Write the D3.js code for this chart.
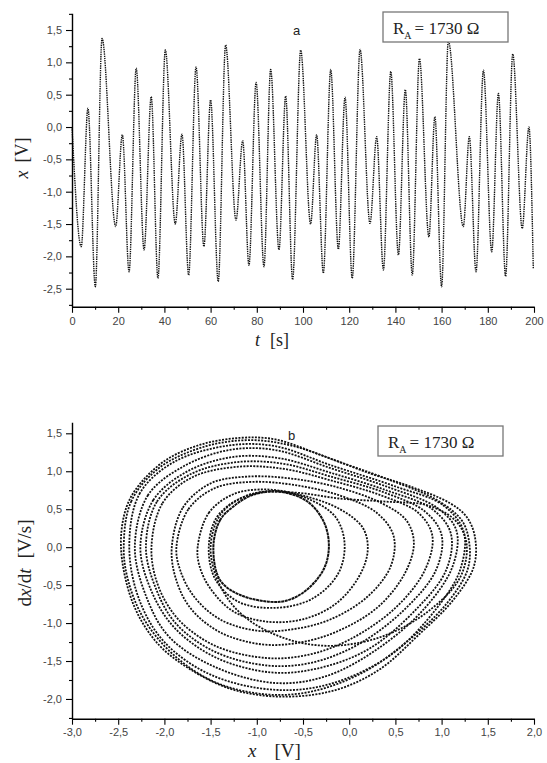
<!DOCTYPE html>
<html><head><meta charset="utf-8">
<script src="https://cdn.jsdelivr.net/npm/d3@7"></script>
<style>
html,body{margin:0;padding:0;background:#fff;}
svg{display:block;}
.tick text{font-family:"Liberation Sans",Arial,sans-serif;font-size:11px;fill:#444;}
</style></head>
<body>
<svg id="c" width="547" height="763"></svg>
<script>
// ---- Panel a: time series extrema (t [s], x [V]) ----
const tsT = [0, 4.0, 6.9, 10.1, 13.0, 18.9, 21.8, 24.7, 27.8, 31.2, 34.3, 37.2, 40.4, 44.7, 47.6, 50.5, 53.7, 57.1, 60.0, 63.3, 66.5, 71.0, 73.9, 76.6, 79.7, 83.1, 86.0, 89.6, 92.5, 95.5, 99.0, 103.3, 105.9, 108.8, 112.0, 115.3, 118.2, 121.3, 124.7, 129.0, 131.9, 134.8, 138.0, 141.3, 144.3, 147.3, 150.4, 154.5, 157.1, 160.0, 162.9, 169.4, 172.0, 174.9, 178.1, 181.7, 184.6, 187.7, 190.8, 194.9, 197.8, 199.7];
const tsX = [0.0, -1.85, 0.29, -2.47, 1.37, -1.54, -0.12, -2.24, 0.91, -1.90, 0.47, -2.34, 1.19, -1.50, -0.11, -2.29, 0.93, -1.85, 0.42, -2.39, 1.27, -1.44, -0.21, -2.14, 0.69, -2.16, 0.89, -1.90, 0.48, -2.36, 1.19, -1.50, -0.12, -2.26, 0.89, -1.89, 0.46, -2.34, 1.20, -1.49, -0.15, -2.21, 0.86, -1.98, 0.58, -2.29, 1.06, -1.70, 0.16, -2.47, 1.33, -1.54, -0.15, -2.24, 0.88, -1.93, 0.52, -2.31, 1.13, -1.57, 0.0, -2.2];
const aXTicks = [0, 20, 40, 60, 80, 100, 120, 140, 160, 180, 200];
const aYTicks = [-2.5, -2.0, -1.5, -1.0, -0.5, 0.0, 0.5, 1.0, 1.5];

// ---- Panel b: phase portrait loops (x [V], dx/dt [V/s]) ----
const loopOuter = [[-2.47,0],[-2.41,0.53],[-2.26,0.84],[-1.98,1.15],[-1.61,1.35],[-1.18,1.44],[-0.8,1.42],[-0.32,1.22],[0.23,0.97],[0.66,0.8],[1.09,0.58],[1.27,0.40],[1.36,0.14],[1.35,-0.25],[1.13,-0.69],[0.73,-1.18],[0.33,-1.61],[-0.14,-1.88],[-0.7,-1.97],[-1.25,-1.88],[-1.72,-1.61],[-2.08,-1.26],[-2.34,-0.74]];
const loopOuter2 = [[-2.44,0],[-2.36,0.6],[-2.05,1.05],[-1.55,1.33],[-1.05,1.41],[-0.6,1.33],[-0.1,1.12],[0.45,0.88],[0.95,0.62],[1.22,0.35],[1.3,0.05],[1.28,-0.3],[1.05,-0.75],[0.62,-1.25],[0.15,-1.65],[-0.4,-1.9],[-0.9,-1.94],[-1.45,-1.78],[-1.9,-1.42],[-2.22,-0.95],[-2.39,-0.45]];
const loop2 = [[-2.38,0],[-2.27,0.7],[-1.9,1.12],[-1.3,1.34],[-0.8,1.33],[-0.2,1.08],[0.5,0.8],[1.02,0.55],[1.24,0.2],[1.2,-0.3],[0.95,-0.8],[0.45,-1.42],[-0.2,-1.8],[-0.8,-1.88],[-1.5,-1.68],[-2.0,-1.25],[-2.27,-0.7]];
const loop3 = [[-2.32,0],[-2.18,0.68],[-1.8,1.06],[-1.3,1.28],[-0.8,1.28],[-0.2,1.04],[0.4,0.8],[0.95,0.52],[1.16,0.22],[1.12,-0.25],[0.82,-0.8],[0.32,-1.33],[-0.25,-1.7],[-0.8,-1.79],[-1.45,-1.58],[-1.95,-1.18],[-2.2,-0.64]];
const loop4 = [[-2.26,0],[-2.12,0.62],[-1.75,1.0],[-1.25,1.19],[-0.75,1.17],[-0.2,0.98],[0.4,0.75],[0.9,0.5],[1.1,0.18],[1.05,-0.3],[0.7,-0.85],[0.2,-1.35],[-0.35,-1.6],[-0.85,-1.65],[-1.45,-1.45],[-1.9,-1.05],[-2.15,-0.55]];
const loop4b = [[-2.2,0],[-2.08,0.6],[-1.72,0.96],[-1.22,1.12],[-0.72,1.1],[-0.2,0.93],[0.38,0.72],[0.82,0.47],[1.0,0.16],[0.94,-0.3],[0.6,-0.82],[0.1,-1.28],[-0.4,-1.52],[-0.88,-1.56],[-1.45,-1.38],[-1.88,-1.0],[-2.1,-0.52]];
const loop5 = [[-2.14,0],[-2.02,0.58],[-1.7,0.92],[-1.2,1.06],[-0.7,1.03],[-0.2,0.88],[0.35,0.68],[0.75,0.45],[0.9,0.15],[0.82,-0.3],[0.5,-0.8],[0.0,-1.22],[-0.45,-1.42],[-0.9,-1.46],[-1.45,-1.3],[-1.85,-0.95],[-2.07,-0.5]];
const loop6 = [[-1.92,0],[-1.8,0.52],[-1.5,0.84],[-1.1,0.93],[-0.6,0.9],[-0.1,0.78],[0.35,0.58],[0.62,0.35],[0.7,0.05],[0.6,-0.35],[0.3,-0.8],[-0.15,-1.12],[-0.55,-1.26],[-0.95,-1.28],[-1.4,-1.12],[-1.72,-0.8],[-1.88,-0.4]];
const loop7 = [[-1.87,0],[-1.74,0.5],[-1.45,0.78],[-1.05,0.86],[-0.6,0.82],[-0.1,0.68],[0.3,0.45],[0.48,0.15],[0.45,-0.25],[0.2,-0.65],[-0.2,-0.95],[-0.6,-1.08],[-1.0,-1.1],[-1.4,-0.95],[-1.68,-0.65],[-1.83,-0.3]];
const loop8 = [[-1.64,0],[-1.52,0.45],[-1.25,0.7],[-0.9,0.76],[-0.5,0.68],[-0.1,0.5],[0.15,0.25],[0.2,-0.05],[0.1,-0.4],[-0.15,-0.75],[-0.5,-0.95],[-0.9,-0.98],[-1.25,-0.85],[-1.5,-0.55],[-1.62,-0.25]];
const loop9 = [[-1.52,0],[-1.43,0.4],[-1.15,0.66],[-0.8,0.74],[-0.45,0.64],[-0.15,0.4],[-0.05,0.05],[-0.12,-0.35],[-0.4,-0.68],[-0.8,-0.8],[-1.2,-0.72],[-1.45,-0.42]];
const loopCross = [[-1.5,0],[-1.38,0.45],[-1.05,0.7],[-0.6,0.72],[-0.1,0.64],[0.4,0.6],[0.85,0.55],[1.15,0.35],[1.27,0.05],[1.2,-0.4],[0.85,-0.85],[0.35,-1.18],[-0.2,-1.3],[-0.7,-1.2],[-1.15,-0.9],[-1.4,-0.5]];
const loopInner = [[-1.47,0],[-1.4,0.35],[-1.26,0.53],[-1.04,0.69],[-0.75,0.73],[-0.45,0.6],[-0.27,0.32],[-0.22,0.0],[-0.28,-0.3],[-0.5,-0.6],[-0.75,-0.72],[-1.18,-0.63],[-1.4,-0.43]];
const dottedLoops = [loopOuter, loopOuter2, loop2, loop3, loop4, loop4b, loop5, loop6, loop7, loop8, loop9, loopCross];
const bXTicks = [-3.0, -2.5, -2.0, -1.5, -1.0, -0.5, 0.0, 0.5, 1.0, 1.5, 2.0];
const bYTicks = [-2.0, -1.5, -1.0, -0.5, 0.0, 0.5, 1.0, 1.5];

const fmt = v => v.toFixed(1).replace(".", ",");
const svg = d3.select("#c");
const serif = "'Liberation Serif','Times New Roman',serif";

function minorRange(a, b, step) { const r = []; for (let v = a; v <= b + 1e-9; v += step) r.push(+v.toFixed(4)); return r; }

function drawAxes(g, x, y, xTicks, yTicks, xMinor, yMinor, xFmt, yFmt) {
  const xr = x.range(), yr = y.range();
  g.append("g").attr("transform", `translate(0,${yr[0]})`)
    .call(d3.axisBottom(x).tickValues(xMinor).tickSize(3).tickFormat(""))
    .call(s => s.select(".domain").remove());
  g.append("g").attr("transform", `translate(${xr[0]},0)`)
    .call(d3.axisLeft(y).tickValues(yMinor).tickSize(3).tickFormat(""))
    .call(s => s.select(".domain").remove());
  g.append("g").attr("transform", `translate(0,${yr[0]})`)
    .call(d3.axisBottom(x).tickValues(xTicks).tickSize(6).tickSizeOuter(0).tickPadding(4).tickFormat(xFmt));
  g.append("g").attr("transform", `translate(${xr[0]},0)`)
    .call(d3.axisLeft(y).tickValues(yTicks).tickSize(6).tickSizeOuter(0).tickPadding(4).tickFormat(yFmt));
  g.selectAll(".domain").attr("stroke", "#000").attr("stroke-width", 1.4);
  g.selectAll(".tick line").attr("stroke", "#000").attr("stroke-width", 1.1);
}

function legend(x0, y0) {
  const g = svg.append("g");
  g.append("rect").attr("x", x0).attr("y", y0).attr("width", 125).attr("height", 30)
    .attr("fill", "#fff").attr("stroke", "#777").attr("stroke-width", 1.3);
  const t = g.append("text").attr("x", x0 + 10).attr("y", y0 + 22)
    .attr("font-family", serif).attr("font-size", 17).attr("fill", "#222");
  t.append("tspan").text("R");
  t.append("tspan").attr("font-size", 10).attr("dy", 5).text("A");
  t.append("tspan").attr("dy", -5).attr("dx", 3).text("= 1730 Ω");
}

// ===== Panel a =====
const xa = d3.scaleLinear().domain([0, 200]).range([72, 534]);
const ya = d3.scaleLinear().domain([-2.78, 1.76]).range([306.8, 13.2]);
const ga = svg.append("g");
const lineA = d3.line().x(d => xa(d[0])).y(d => ya(d[1])).curve(d3.curveMonotoneX);
ga.append("path").datum(tsT.map((t, i) => [t, tsX[i]]))
  .attr("d", lineA).attr("fill", "none").attr("stroke", "#111")
  .attr("stroke-width", 1.4).attr("stroke-dasharray", "1.4,0.9");
drawAxes(ga, xa, ya, aXTicks, aYTicks, minorRange(10, 190, 20), minorRange(-2.75, 1.75, 0.5), d => d, fmt);
legend(383, 12);
svg.append("text").attr("x", 293).attr("y", 35).attr("font-family", "'Liberation Sans',Arial,sans-serif")
  .attr("font-size", 13).attr("fill", "#222").text("a");
svg.append("text").attr("x", 255).attr("y", 346)
  .attr("font-family", serif).attr("font-size", 18).attr("fill", "#222")
  .call(t => { t.append("tspan").attr("font-style", "italic").text("t"); t.append("tspan").attr("dx", 10).text("[s]"); });
svg.append("text").attr("transform", "translate(28,158) rotate(-90)").attr("text-anchor", "middle")
  .attr("font-family", serif).attr("font-size", 18).attr("fill", "#222")
  .call(t => { t.append("tspan").attr("font-style", "italic").text("x"); t.append("tspan").attr("dx", 8).text("[V]"); });

// ===== Panel b =====
const xb = d3.scaleLinear().domain([-3, 2]).range([72, 534]);
const yb = d3.scaleLinear().domain([-2.26, 1.645]).range([718.7, 422.3]);
const gb = svg.append("g");
const loopLine = d3.line().x(d => xb(d[0])).y(d => yb(d[1])).curve(d3.curveCatmullRomClosed.alpha(0.5));
gb.selectAll("path.loop").data(dottedLoops).join("path").attr("class", "loop")
  .attr("d", loopLine).attr("fill", "none").attr("stroke", "#111")
  .attr("stroke-width", 1.8).attr("stroke-dasharray", "2,1.3");
gb.append("path").datum(loopInner).attr("d", loopLine).attr("fill", "none")
  .attr("stroke", "#111").attr("stroke-width", 2).attr("stroke-dasharray", "3,0.6");
drawAxes(gb, xb, yb, bXTicks, bYTicks, minorRange(-2.75, 1.75, 0.5), minorRange(-2.25, 1.25, 0.5), fmt, fmt);
legend(378, 426);
svg.append("text").attr("x", 288).attr("y", 440).attr("font-family", "'Liberation Sans',Arial,sans-serif")
  .attr("font-size", 13).attr("fill", "#222").text("b");
svg.append("text").attr("x", 248).attr("y", 757)
  .attr("font-family", serif).attr("font-size", 19).attr("fill", "#222")
  .call(t => { t.append("tspan").attr("font-style", "italic").text("x"); t.append("tspan").attr("dx", 18).text("[V]"); });
svg.append("text").attr("transform", "translate(31,563) rotate(-90)").attr("text-anchor", "middle")
  .attr("font-family", serif).attr("font-size", 19).attr("fill", "#222")
  .call(t => {
    t.append("tspan").text("d");
    t.append("tspan").attr("font-style", "italic").text("x");
    t.append("tspan").text("/d");
    t.append("tspan").attr("font-style", "italic").text("t");
    t.append("tspan").attr("dx", 10).text("[V/s]");
  });
</script>
</body></html>
